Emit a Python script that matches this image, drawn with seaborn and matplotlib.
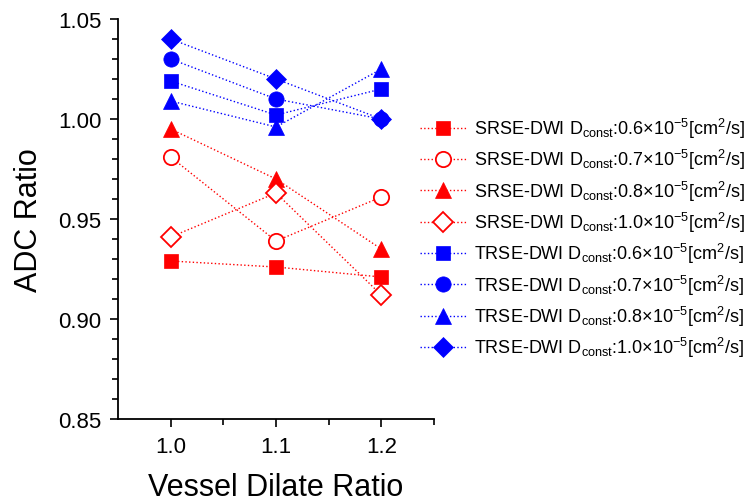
import numpy as np
import pandas as pd
import seaborn as sns
import matplotlib.pyplot as plt

# data
dilate = [1.0, 1.1, 1.2]
d_const = ["0.6", "0.7", "0.8", "1.0"]

srse_06 = [0.929, 0.926, 0.921]
srse_07 = [0.981, 0.939, 0.961]
srse_08 = [0.995, 0.970, 0.935]
srse_10 = [0.941, 0.963, 0.912]

trse_06 = [1.019, 1.002, 1.015]
trse_07 = [1.030, 1.010, 1.000]
trse_08 = [1.009, 0.996, 1.025]
trse_10 = [1.040, 1.020, 1.000]

sns.set_theme(style="ticks")
plt.rcParams['font.family'] = ['Liberation Sans', 'DejaVu Sans']
plt.rcParams['mathtext.fontset'] = 'custom'
plt.rcParams['mathtext.rm'] = 'Liberation Sans'
plt.rcParams['mathtext.it'] = 'Liberation Sans:italic'
plt.rcParams['mathtext.bf'] = 'Liberation Sans:bold'
for key in ['text.color', 'axes.labelcolor', 'xtick.color', 'ytick.color']:
    plt.rcParams[key] = 'black'

fig = plt.figure(figsize=(7.54, 5.02), dpi=100)
ax = fig.add_axes([118 / 754, 1 - 420 / 502, 316 / 754, 400 / 502])

series = [
    ("SRSE", "0.6", srse_06, "red", "s", True, 10),
    ("SRSE", "0.7", srse_07, "red", "o", False, 11),
    ("SRSE", "0.8", srse_08, "red", "^", True, 12),
    ("SRSE", "1.0", srse_10, "red", "D", False, 10),
    ("TRSE", "0.6", trse_06, "blue", "s", True, 10),
    ("TRSE", "0.7", trse_07, "blue", "o", True, 11),
    ("TRSE", "0.8", trse_08, "blue", "^", True, 12),
    ("TRSE", "1.0", trse_10, "blue", "D", True, 10),
]

for seq, dc, vals, col, mk, filled, ms in series:
    df = pd.DataFrame({"x": dilate, "y": vals})
    label = (seq + "-DWI D$_{\\mathrm{const}}$:" + dc +
             "$\\times$10$^{\\mathrm{-5}}$[cm$^{\\mathrm{2}}$/s]")
    sns.lineplot(data=df, x="x", y="y", ax=ax, color=col, linestyle=":",
                 linewidth=1.0, marker=mk, markersize=ms,
                 markerfacecolor=col if filled else "white",
                 markeredgecolor=col, markeredgewidth=1.3 if not filled else 0.5,
                 label=label)

ax.set_xlim(0.95, 1.25)
ax.set_ylim(0.85, 1.05)
ax.set_xticks([1.0, 1.1, 1.2])
ax.set_xticks([1.05, 1.15, 1.25], minor=True)
ax.set_yticks([0.85, 0.90, 0.95, 1.00, 1.05])
ax.set_yticks(np.arange(0.86, 1.05, 0.01), minor=True)
ax.set_xticklabels(["1.0", "1.1", "1.2"])
ax.set_yticklabels(["0.85", "0.90", "0.95", "1.00", "1.05"])
ax.tick_params(axis="both", which="major", labelsize=16, length=6, width=1.2,
               direction="out", color="black", pad=6)
ax.tick_params(axis="both", which="minor", length=4, width=1.2,
               direction="out", color="black")
for side in ["left", "bottom"]:
    ax.spines[side].set_linewidth(1.3)
    ax.spines[side].set_color("black")
sns.despine(ax=ax)

ax.set_xlabel("Vessel Dilate Ratio", fontsize=22, labelpad=11)
ax.set_ylabel("ADC Ratio", fontsize=22, labelpad=10)

ax.legend(loc="upper left", bbox_to_anchor=(420 / 754, 1 - 117 / 502),
          bbox_transform=fig.transFigure, frameon=False, fontsize=13.0,
          handlelength=2.6, handletextpad=0.4, labelspacing=0.4,
          borderaxespad=0, borderpad=0)

fig.savefig("out.png", dpi=100)
